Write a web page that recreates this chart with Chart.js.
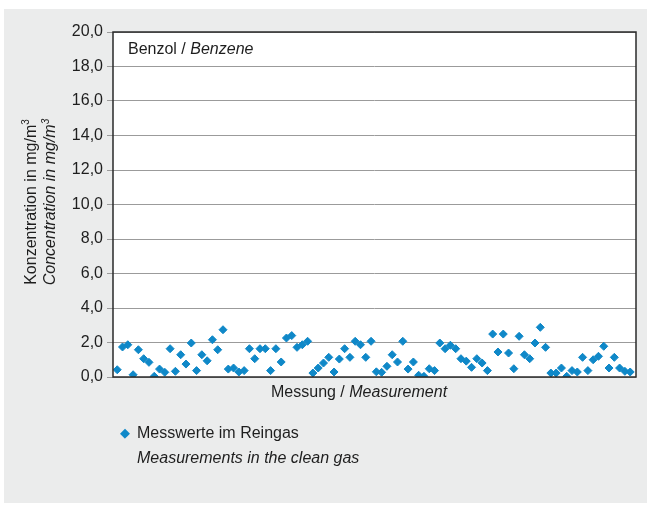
<!DOCTYPE html>
<html>
<head>
<meta charset="utf-8">
<script src="https://cdn.jsdelivr.net/npm/chart.js@4"></script>
<style>
  body { margin: 0; background: #fff; font-family: 'Liberation Sans Narrow', 'Liberation Sans', Arial, sans-serif; color: #1e1e1e; }
  #panel { position: absolute; left: 4px; top: 9px; width: 643px; height: 494px; background: #ebecec; }
  #wrap { position: absolute; left: 0; top: 0; width: 647px; height: 506px; }
  .txt { position: absolute; font-size: 16px; white-space: nowrap; line-height: 1; }
  .yt { position: absolute; font-size: 16px; white-space: nowrap; transform: translate(-50%, -50%) rotate(-90deg); line-height: 1; }
  i { font-style: italic; }
</style>
</head>
<body>
<div id="panel"></div>
<div id="wrap">
  <canvas id="grafico" width="647" height="506"></canvas>
  <div class="txt" style="left:128px; top:41px;">Benzol / <i>Benzene</i></div>
  <div class="yt" style="left:30px; top:202px;">Konzentration in mg/m<sup style="font-size:10px">3</sup></div>
  <div class="yt" style="left:50px; top:202px;"><i>Concentration in mg/m<sup style="font-size:10px">3</sup></i></div>
  <div class="txt" style="left:271px; top:384px;">Messung / <i>Measurement</i></div>
  <div class="txt" style="left:120px; top:426px; color:#0f88c8; font-size:13px;">&#9670;</div>
  <div class="txt" style="left:137px; top:425px;">Messwerte im Reingas</div>
  <div class="txt" style="left:137px; top:450px;"><i>Measurements in the clean gas</i></div>
</div>
<script>
// Benzol im Reingas, mg/m3
const messwerte = [
    0.42, 1.74, 1.87, 0.13, 1.58, 1.06, 0.85, 0.04, 0.46, 0.27,
    1.64, 0.33, 1.29, 0.75, 1.97, 0.37, 1.29, 0.94, 2.16, 1.58,
    2.74, 0.46, 0.52, 0.29, 0.37, 1.64, 1.06, 1.64, 1.64, 0.37,
    1.64, 0.87, 2.26, 2.40, 1.72, 1.87, 2.07, 0.23, 0.52, 0.81,
    1.14, 0.29, 1.04, 1.64, 1.14, 2.07, 1.87, 1.14, 2.07, 0.30,
    0.27, 0.62, 1.29, 0.87, 2.07, 0.46, 0.87, 0.10, 0.04, 0.48,
    0.37, 1.97, 1.64, 1.84, 1.64, 1.06, 0.92, 0.56, 1.06, 0.81,
    0.37, 2.49, 1.45, 2.49, 1.39, 0.48, 2.36, 1.29, 1.06, 1.97,
    2.88, 1.72, 0.23, 0.23, 0.52, 0.04, 0.37, 0.29, 1.14, 0.37,
    1.00, 1.20, 1.78, 0.52, 1.14, 0.52, 0.33, 0.29
];
const yTicks = ['0,0', '2,0', '4,0', '6,0', '8,0', '10,0', '12,0', '14,0', '16,0', '18,0', '20,0'];

const punkte = messwerte.map((v, i) => ({ x: i, y: v }));

// Rahmen und weisse Zeichenflaeche
const rahmen = {
    id: 'rahmen',
    beforeDraw(chart) {
        const a = chart.chartArea;
        const ctx = chart.ctx;
        ctx.save();
        ctx.fillStyle = '#ffffff';
        ctx.fillRect(a.left, a.top, a.right - a.left, a.bottom - a.top);
        ctx.restore();
    },
    afterDatasetsDraw(chart) {
        const a = chart.chartArea;
        const ctx = chart.ctx;
        ctx.save();
        ctx.strokeStyle = '#2a2a2a';
        ctx.lineWidth = 1.5;
        ctx.strokeRect(a.left, a.top, a.right - a.left, a.bottom - a.top);
        ctx.restore();
    }
};

new Chart(document.getElementById('grafico'), {
    type: 'scatter',
    data: {
        datasets: [{
            label: 'Messwerte im Reingas',
            data: punkte,
            pointStyle: 'rectRot',
            pointRadius: 4,
            pointBackgroundColor: '#0f88c8',
            pointBorderColor: '#0f88c8',
            pointBorderWidth: 1
        }]
    },
    options: {
        responsive: false,
        animation: false,
        layout: { padding: { left: 0, top: 32, right: 11, bottom: 0 } },
        plugins: {
            legend: { display: false },
            tooltip: { enabled: false }
        },
        scales: {
            x: {
                type: 'linear',
                min: -0.8,
                max: 98.1,
                ticks: { display: false },
                grid: { display: false },
                border: { display: false },
                afterFit: s => { s.height = 129; }
            },
            y: {
                min: 0,
                max: 20,
                ticks: {
                    stepSize: 2,
                    color: '#1e1e1e',
                    padding: 4,
                    font: { family: "'Liberation Sans Narrow', 'Liberation Sans', Arial, sans-serif", size: 16 },
                    callback: (v, i) => yTicks[i]
                },
                grid: { color: '#9b9b9b', lineWidth: 1, tickLength: 6 },
                border: { display: false },
                afterFit: s => { s.width = 113; }
            }
        }
    },
    plugins: [rahmen]
});
</script>
</body>
</html>
